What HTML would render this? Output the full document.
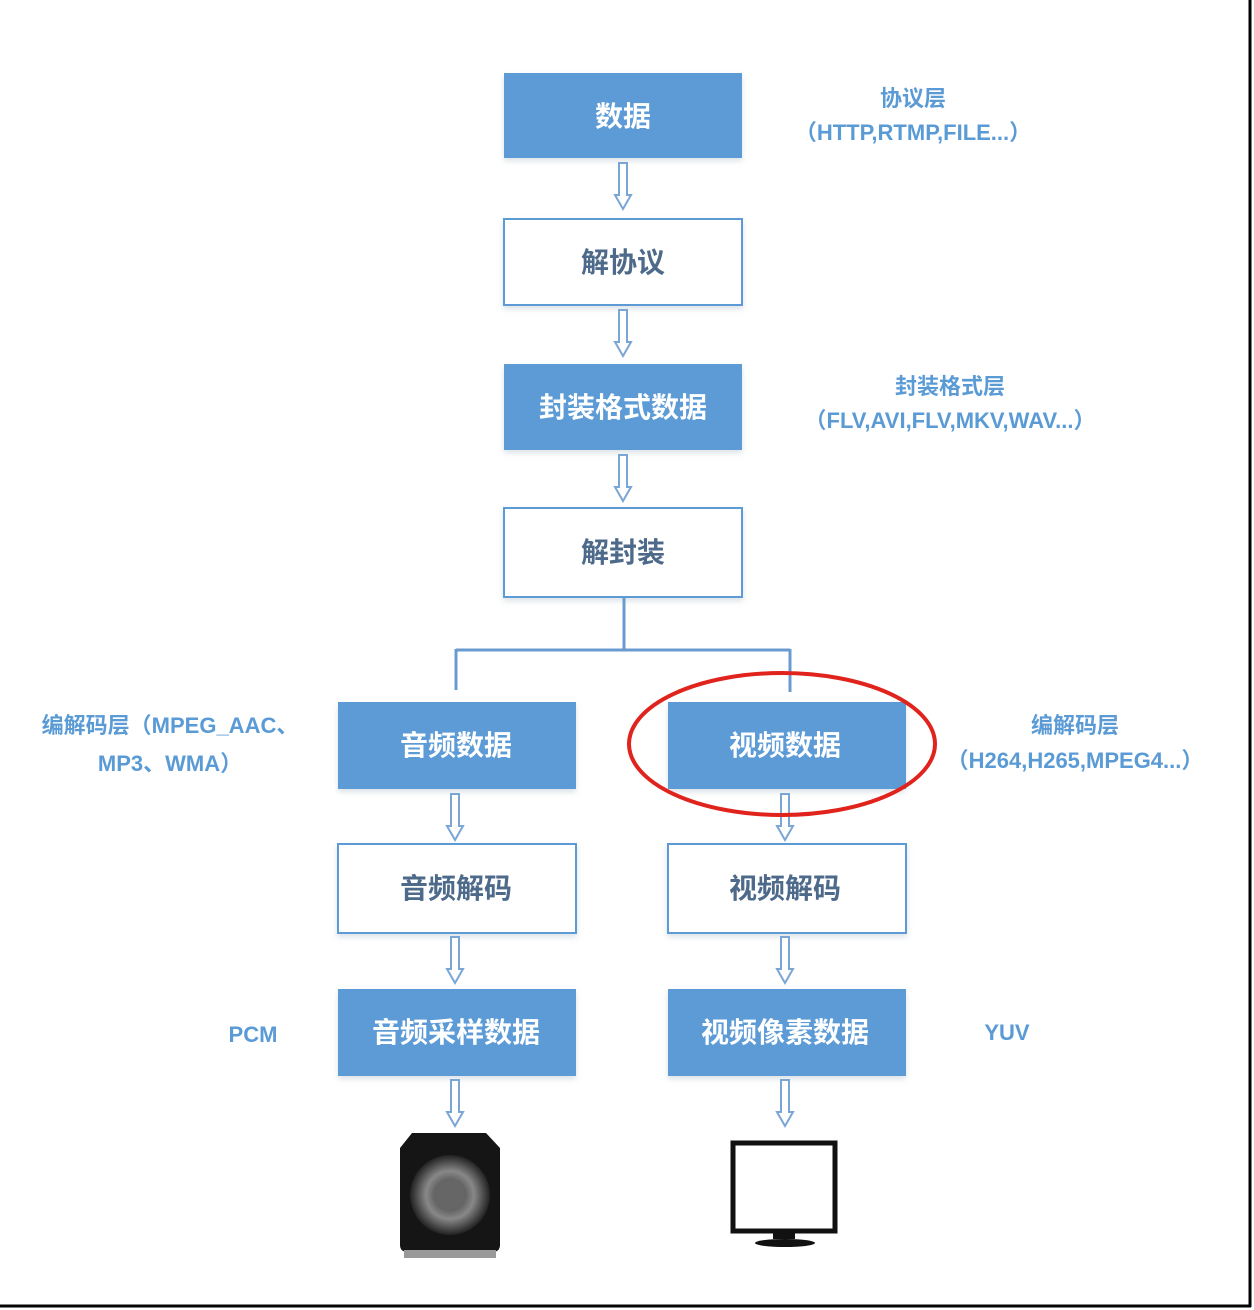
<!DOCTYPE html>
<html><head><meta charset="utf-8"><style>
html,body{margin:0;padding:0;background:#fff;}
svg{display:block;}
text{font-family:"Liberation Sans","Noto Sans CJK SC",sans-serif;}
</style></head><body>
<svg width="1254" height="1310" viewBox="0 0 1254 1310" xmlns="http://www.w3.org/2000/svg">
<defs>
<filter id="sh" x="-10%" y="-10%" width="120%" height="130%"><feDropShadow dx="0" dy="3" stdDeviation="3" flood-color="#9ab" flood-opacity="0.35"/></filter>
<g id="arr"><path d="M-4,0 L4,0 L4,32 L8,32 L0,46 L-8,32 L-4,32 Z" fill="#fff" stroke="#7aa6d6" stroke-width="2"/></g>
<radialGradient id="cone" cx="50%" cy="50%" r="50%"><stop offset="0" stop-color="#999"/><stop offset="0.3" stop-color="#555"/><stop offset="0.6" stop-color="#888"/><stop offset="1" stop-color="#222"/></radialGradient>
</defs>
<!-- border -->
<line x1="1250" y1="0" x2="1250" y2="1307" stroke="#000" stroke-width="3"/>
<line x1="0" y1="1306" x2="1251" y2="1306" stroke="#000" stroke-width="3"/>

<g font-size="28" font-weight="bold" text-anchor="middle">
<rect x="504" y="73" width="238" height="85" fill="#5b9bd5" filter="url(#sh)"/>
<text x="623" y="126" fill="#fff">数据</text>
<rect x="504" y="219" width="238" height="86" fill="#fff" stroke="#5b9bd5" stroke-width="2" filter="url(#sh)"/>
<text x="623" y="272" fill="#4e6a8a">解协议</text>
<rect x="504" y="364" width="238" height="86" fill="#5b9bd5" filter="url(#sh)"/>
<text x="623" y="417" fill="#fff">封装格式数据</text>
<rect x="504" y="508" width="238" height="89" fill="#fff" stroke="#5b9bd5" stroke-width="2" filter="url(#sh)"/>
<text x="623" y="562" fill="#4e6a8a">解封装</text>

<rect x="338" y="702" width="238" height="87" fill="#5b9bd5" filter="url(#sh)"/>
<text x="456" y="755" fill="#fff">音频数据</text>
<rect x="338" y="844" width="238" height="89" fill="#fff" stroke="#5b9bd5" stroke-width="2" filter="url(#sh)"/>
<text x="456" y="898" fill="#4e6a8a">音频解码</text>
<rect x="338" y="989" width="238" height="87" fill="#5b9bd5" filter="url(#sh)"/>
<text x="456" y="1042" fill="#fff">音频采样数据</text>

<rect x="668" y="702" width="238" height="87" fill="#5b9bd5" filter="url(#sh)"/>
<text x="785" y="755" fill="#fff">视频数据</text>
<rect x="668" y="844" width="238" height="89" fill="#fff" stroke="#5b9bd5" stroke-width="2" filter="url(#sh)"/>
<text x="785" y="898" fill="#4e6a8a">视频解码</text>
<rect x="668" y="989" width="238" height="87" fill="#5b9bd5" filter="url(#sh)"/>
<text x="785" y="1042" fill="#fff">视频像素数据</text>
</g>

<!-- connectors -->
<path d="M624,598 V650 M456,650 H790 M456,649 V690 M790,649 V692" stroke="#6a9bd0" stroke-width="3" fill="none"/>

<use href="#arr" x="623" y="163"/>
<use href="#arr" x="623" y="310"/>
<use href="#arr" x="623" y="455"/>
<use href="#arr" x="455" y="794"/>
<use href="#arr" x="785" y="794"/>
<use href="#arr" x="455" y="937"/>
<use href="#arr" x="785" y="937"/>
<use href="#arr" x="455" y="1080"/>
<use href="#arr" x="785" y="1080"/>

<ellipse cx="782" cy="744" rx="153" ry="71" fill="none" stroke="#e0231c" stroke-width="4"/>

<g fill="#5b9bd5" font-size="22" font-weight="bold" text-anchor="middle">
<text x="913" y="106">协议层</text>
<text x="913" y="140">（HTTP,RTMP,FILE...）</text>
<text x="950" y="394">封装格式层</text>
<text x="950" y="428">（FLV,AVI,FLV,MKV,WAV...）</text>
<text x="170" y="733">编解码层（MPEG_AAC、</text>
<text x="170" y="771">MP3、WMA）</text>
<text x="1075" y="733">编解码层</text>
<text x="1075" y="768">（H264,H265,MPEG4...）</text>
<text x="253" y="1042">PCM</text>
<text x="1007" y="1040">YUV</text>
</g>

<!-- speaker -->
<g>
<path d="M412,1133 H486 L500,1148 V1245 Q500,1252 492,1252 H408 Q400,1252 400,1245 V1148 Z" fill="#151515"/>
<circle cx="450" cy="1195" r="40" fill="url(#cone)"/>
<circle cx="450" cy="1195" r="15" fill="#666"/>
<rect x="404" y="1250" width="92" height="8" fill="#999"/>
</g>
<!-- monitor -->
<g>
<rect x="733" y="1143" width="102" height="88" fill="#fff" stroke="#111" stroke-width="5"/>
<rect x="773" y="1231" width="22" height="8" fill="#111"/>
<ellipse cx="785" cy="1243" rx="30" ry="4" fill="#111"/>
</g>
</svg>
</body></html>
